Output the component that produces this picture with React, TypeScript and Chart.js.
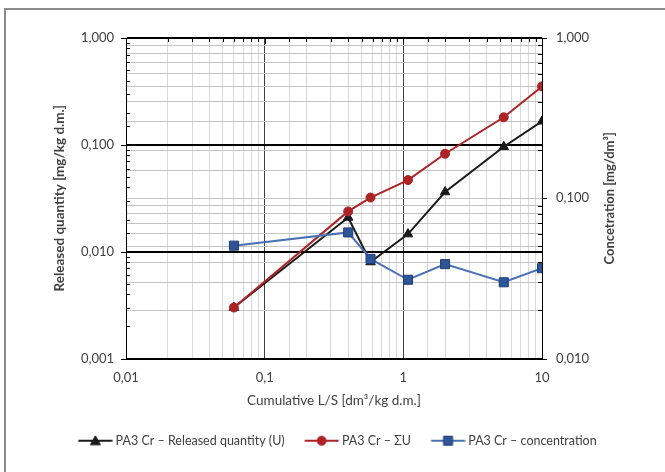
import React, { useEffect, useRef } from "react";
import { Chart, registerables } from "chart.js";

Chart.register(...registerables);

// ---- data ----
const lsValues = [0.06, 0.4, 0.58, 1.08, 2, 5.3, 10];
const releasedQuantity = [0.003, 0.0209, 0.008, 0.0146, 0.0362, 0.0959, 0.166];
const cumulativeSum = [0.003, 0.0238, 0.0321, 0.0468, 0.0825, 0.181, 0.352];
const concentration = [0.0506, 0.0612, 0.0418, 0.031, 0.0388, 0.0299, 0.0366];

const seriesLabels = [
  "PA3 Cr – Released quantity (U)",
  "PA3 Cr – ΣU",
  "PA3 Cr – concentration",
];

const xTickValues = [0.01, 0.1, 1, 10];
const xTickLabels = ["0,01", "0,1", "1", "10"];
const leftTickValues = [0.001, 0.01, 0.1, 1];
const leftTickLabels = ["0,001", "0,010", "0,100", "1,000"];
const rightTickValues = [0.01, 0.1, 1];
const rightTickLabels = ["0,010", "0,100", "1,000"];

const xTitle = "Cumulative L/S [dm³/kg d.m.]";
const leftTitle = "Released quantity [mg/kg d.m.]";
const rightTitle = "Concetration [mg/dm³]";

// ---- styles ----
const FONT = "Lato, 'Open Sans', sans-serif";
const BLACK = "#1a1a1a";
const RED = "#ad2326";
const BLUE_LINE = "#4a70b5";
const BLUE_FILL = "#2f5597";
const BLUE_BORDER = "#1f3c78";
const TEXT = "#404040";

const isMajor = (v: number) => {
  const l = Math.log10(v);
  return Math.abs(l - Math.round(l)) < 1e-6;
};

const labelFor = (values: number[], labels: string[]) => (v: any) => {
  const n = Number(v);
  const i = values.findIndex((t) => Math.abs(Math.log10(t) - Math.log10(n)) < 1e-6);
  return i >= 0 ? labels[i] : "";
};

function legendImage(kind: string, line: string, fill: string, border: string) {
  const c = document.createElement("canvas");
  c.width = 48;
  c.height = 14;
  const g = c.getContext("2d")!;
  g.strokeStyle = line;
  g.lineWidth = 2;
  g.beginPath();
  g.moveTo(13.5, 7);
  g.lineTo(47.5, 7);
  g.stroke();
  const cx = 30.5;
  const cy = 7;
  g.fillStyle = fill;
  g.strokeStyle = border;
  g.lineWidth = 1;
  g.beginPath();
  if (kind === "triangle") {
    g.moveTo(cx, cy - 5);
    g.lineTo(cx + 5, cy + 4);
    g.lineTo(cx - 5, cy + 4);
    g.closePath();
  } else if (kind === "circle") {
    g.arc(cx, cy, 4.5, 0, Math.PI * 2);
  } else {
    g.rect(cx - 4.5, cy - 4.5, 9, 9);
  }
  g.fill();
  g.stroke();
  return c;
}

const axisTicksPlugin = {
  id: "axisTicks",
  beforeDatasetsDraw(chart: any) {
    const { ctx, chartArea: a, scales } = chart;
    ctx.save();
    ctx.strokeStyle = "#000";
    ctx.lineWidth = 1;
    ctx.beginPath();
    scales.y.ticks.forEach((t: any) => {
      const p = Math.round(scales.y.getPixelForValue(t.value)) + 0.5;
      if (isMajor(t.value)) {
        ctx.moveTo(a.left - 5, p);
        ctx.lineTo(a.left, p);
      } else {
        ctx.moveTo(a.left, p);
        ctx.lineTo(a.left + 4, p);
      }
    });
    scales.y1.ticks.forEach((t: any) => {
      const p = Math.round(scales.y1.getPixelForValue(t.value)) + 0.5;
      if (isMajor(t.value)) {
        ctx.moveTo(a.right, p);
        ctx.lineTo(a.right + 5, p);
      } else {
        ctx.moveTo(a.right - 4, p);
        ctx.lineTo(a.right, p);
      }
    });
    scales.x.ticks.forEach((t: any) => {
      const p = Math.round(scales.x.getPixelForValue(t.value)) + 0.5;
      ctx.moveTo(p, a.top);
      ctx.lineTo(p, a.top + (isMajor(t.value) ? 6 : 4));
    });
    ctx.stroke();
    ctx.restore();
  },
};

const rightTitlePlugin = {
  id: "rightTitle",
  afterDraw(chart: any) {
    const { ctx, chartArea: a, scales } = chart;
    const s = scales.y1;
    ctx.save();
    ctx.font = `bold 13px ${FONT}`;
    ctx.fillStyle = TEXT;
    ctx.textAlign = "center";
    ctx.textBaseline = "middle";
    ctx.translate(s.right - 55, (a.top + a.bottom) / 2);
    ctx.rotate(-Math.PI / 2);
    ctx.fillText(rightTitle, 0, 0);
    ctx.restore();
  },
};

export default function App() {
  const ref = useRef<HTMLCanvasElement | null>(null);

  useEffect(() => {
    if (!ref.current) return;
    const images = [
      legendImage("triangle", BLACK, BLACK, BLACK),
      legendImage("circle", RED, RED, RED),
      legendImage("rect", BLUE_LINE, BLUE_FILL, BLUE_BORDER),
    ];
    const tickFont = { family: FONT, size: 13 };
    const chart = new Chart(ref.current, {
      type: "line",
      data: {
        datasets: [
          {
            label: seriesLabels[0],
            data: lsValues.map((x, i) => ({ x, y: releasedQuantity[i] })),
            yAxisID: "y",
            borderColor: BLACK,
            backgroundColor: BLACK,
            pointStyle: "triangle",
            pointRadius: 5.5,
            pointBorderWidth: 1,
            pointBorderColor: BLACK,
            pointBackgroundColor: BLACK,
            borderWidth: 2,
            order: 3,
          },
          {
            label: seriesLabels[1],
            data: lsValues.map((x, i) => ({ x, y: cumulativeSum[i] })),
            yAxisID: "y",
            borderColor: RED,
            backgroundColor: RED,
            pointStyle: "circle",
            pointRadius: 4.5,
            pointBorderWidth: 1,
            pointBorderColor: RED,
            pointBackgroundColor: RED,
            borderWidth: 2,
            order: 2,
          },
          {
            label: seriesLabels[2],
            data: lsValues.map((x, i) => ({ x, y: concentration[i] })),
            yAxisID: "y1",
            borderColor: BLUE_LINE,
            backgroundColor: BLUE_FILL,
            pointStyle: "rect",
            pointRadius: 6.4,
            pointBorderWidth: 1,
            pointBorderColor: BLUE_BORDER,
            pointBackgroundColor: BLUE_FILL,
            borderWidth: 2,
            order: 1,
          },
        ],
      },
      options: {
        animation: false,
        responsive: false,
        devicePixelRatio: 1,
        layout: { padding: { top: 38, bottom: 15, left: 0, right: 0 } },
        plugins: {
          tooltip: { enabled: false },
          legend: {
            position: "bottom",
            labels: {
              usePointStyle: true,
              pointStyleWidth: 41,
              padding: 10,
              color: TEXT,
              font: { family: FONT, size: 12.5 },
              sort: (a: any, b: any) => a.datasetIndex - b.datasetIndex,
              generateLabels: (ch: any) =>
                ch.data.datasets.map((ds: any, i: number) => ({
                  text: ds.label,
                  pointStyle: images[i],
                  fillStyle: ds.borderColor,
                  strokeStyle: ds.borderColor,
                  lineWidth: 0,
                  hidden: false,
                  datasetIndex: i,
                  fontColor: TEXT,
                })),
            },
          },
        },
        scales: {
          x: {
            type: "logarithmic",
            position: "bottom",
            min: 0.01,
            max: 10,
            afterFit: (s: any) => {
              s.height = 66;
            },
            ticks: {
              autoSkip: false,
              maxRotation: 0,
              minRotation: 0,
              padding: 12,
              color: TEXT,
              font: tickFont,
              callback: labelFor(xTickValues, xTickLabels),
            },
            grid: {
              z: -3,
              drawTicks: false,
              lineWidth: 1,
              color: (c: any) => (c.tick && isMajor(c.tick.value) ? "#404040" : "#d9d9d9"),
            },
            border: { color: "#000", width: 1 },
            title: {
              display: true,
              text: xTitle,
              color: TEXT,
              font: { family: FONT, size: 13.5 },
              padding: { top: 0, bottom: 16 },
            },
          },
          y1: {
            type: "logarithmic",
            position: "right",
            min: 0.01,
            max: 1,
            afterFit: (s: any) => {
              s.width = 123;
            },
            ticks: {
              autoSkip: false,
              padding: 14,
              color: TEXT,
              font: tickFont,
              callback: labelFor(rightTickValues, rightTickLabels),
            },
            grid: {
              z: -2,
              drawTicks: false,
              lineWidth: 1,
              color: "#c4c4c4",
            },
            border: { color: "#000", width: 1 },
          },
          y: {
            type: "logarithmic",
            position: "left",
            min: 0.001,
            max: 1,
            afterFit: (s: any) => {
              s.width = 126;
            },
            ticks: {
              autoSkip: false,
              padding: 12,
              color: TEXT,
              font: tickFont,
              callback: labelFor(leftTickValues, leftTickLabels),
            },
            grid: {
              z: -1,
              drawTicks: false,
              lineWidth: (c: any) => (c.tick && isMajor(c.tick.value) ? 2 : 1),
              color: (c: any) => (c.tick && isMajor(c.tick.value) ? "#000" : "rgba(0,0,0,0)"),
            },
            border: { color: "#000", width: 1 },
            title: {
              display: true,
              text: leftTitle,
              color: TEXT,
              font: { family: FONT, size: 13.5, weight: "bold" },
              padding: { top: 52, bottom: 0 },
            },
          },
        },
      },
      plugins: [axisTicksPlugin, rightTitlePlugin],
    } as any);
    return () => chart.destroy();
  }, []);

  return (
    <div
      style={{
        position: "fixed",
        left: 0,
        top: 0,
        width: 665,
        height: 472,
        overflow: "hidden",
        background: "#fff",
      }}
    >
      <div
        style={{
          position: "absolute",
          left: 4,
          top: 8,
          width: 700,
          height: 500,
          borderLeft: "2px solid #8c8c8c",
          borderTop: "2px solid #8c8c8c",
        }}
      />
      <canvas
        ref={ref}
        width={665}
        height={472}
        style={{ position: "absolute", left: 0, top: 0, width: 665, height: 472 }}
      />
    </div>
  );
}
